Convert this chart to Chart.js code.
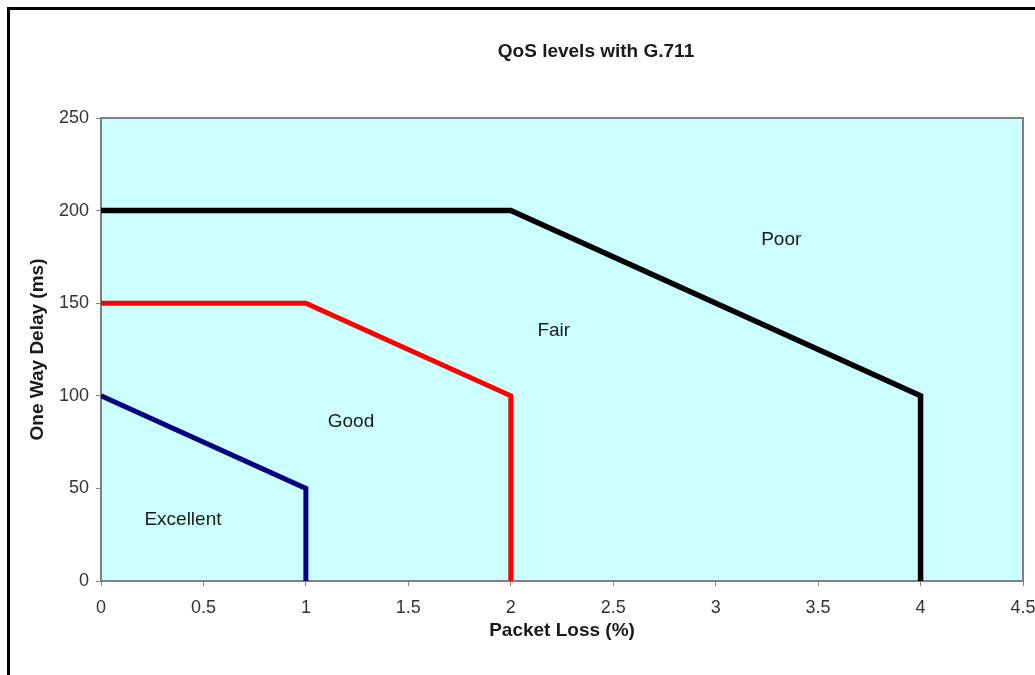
<!DOCTYPE html>
<html>
<head>
<meta charset="utf-8">
<script src="https://cdn.jsdelivr.net/npm/chart.js@4.4.1/dist/chart.umd.min.js"></script>
<style>
  html, body { margin: 0; padding: 0; background: #ffffff; }
  #wrap { width: 1035px; height: 675px; position: relative; }
  canvas { display: block; }
</style>
</head>
<body>
<div id="wrap"><canvas id="c" width="1035" height="675"></canvas></div>
<script>
// ---- data ----
const chartTitle = 'QoS levels with G.711';
const xAxisTitle = 'Packet Loss (%)';
const yAxisTitle = 'One Way Delay (ms)';

const xTickValues = [0, 0.5, 1, 1.5, 2, 2.5, 3, 3.5, 4, 4.5];
const yTickValues = [0, 50, 100, 150, 200, 250];

// Boundary lines (Packet Loss %, One Way Delay ms)
const excellentLoss  = [0, 1, 1];
const excellentDelay = [100, 50, 0];
const goodLoss  = [0, 1, 2, 2];
const goodDelay = [150, 150, 100, 0];
const fairLoss  = [0, 2, 4, 4];
const fairDelay = [200, 200, 100, 0];

// Zone labels, anchored in data space
const zoneNames = ['Excellent', 'Good', 'Fair', 'Poor'];
const zoneLoss  = [0.40, 1.22, 2.21, 3.32];
const zoneDelay = [33, 86, 135, 184];

// ---- build ----
function pts(xs, ys) { return xs.map((x, i) => ({ x: x, y: ys[i] })); }

const FONT = "'Liberation Sans', Arial, Helvetica, sans-serif";

const decorPlugin = {
  id: 'decor',
  beforeDraw(chart) {
    const { ctx, chartArea: a } = chart;
    ctx.save();
    ctx.fillStyle = '#ffffff';
    ctx.fillRect(0, 0, chart.width, chart.height);
    ctx.fillStyle = '#ccffff';
    ctx.fillRect(a.left, a.top, a.right - a.left, a.bottom - a.top);
    // outer frame (left + top)
    ctx.strokeStyle = '#000000';
    ctx.lineWidth = 3;
    ctx.beginPath();
    ctx.moveTo(8.5, chart.height + 5);
    ctx.lineTo(8.5, 8.5);
    ctx.lineTo(chart.width + 5, 8.5);
    ctx.stroke();
    // title
    ctx.fillStyle = '#1a1a1a';
    ctx.font = 'bold 19px ' + FONT;
    ctx.textAlign = 'center';
    ctx.textBaseline = 'middle';
    ctx.fillText(chartTitle, 596, 52);
    ctx.restore();
  },
  afterDatasetsDraw(chart) {
    const { ctx, chartArea: a, scales } = chart;
    ctx.save();
    // plot border top & right
    ctx.strokeStyle = '#808080';
    ctx.lineWidth = 2;
    ctx.beginPath();
    ctx.moveTo(a.left, a.top);
    ctx.lineTo(a.right, a.top);
    ctx.lineTo(a.right, a.bottom);
    ctx.stroke();
    // zone labels
    ctx.fillStyle = '#1a1a1a';
    ctx.font = '19px ' + FONT;
    ctx.textAlign = 'center';
    ctx.textBaseline = 'middle';
    zoneNames.forEach((n, i) => {
      ctx.fillText(n, scales.x.getPixelForValue(zoneLoss[i]), scales.y.getPixelForValue(zoneDelay[i]));
    });
    ctx.restore();
  }
};

function lineDs(label, xs, ys, color, width) {
  return {
    label: label,
    data: pts(xs, ys),
    showLine: true,
    borderColor: color,
    backgroundColor: color,
    borderWidth: width,
    pointRadius: 0,
    pointHoverRadius: 0,
    tension: 0,
    borderJoinStyle: 'miter',
    borderCapStyle: 'butt',
    fill: false
  };
}

new Chart(document.getElementById('c'), {
  type: 'scatter',
  data: {
    datasets: [
      lineDs('Excellent', excellentLoss, excellentDelay, '#000080', 5),
      lineDs('Good', goodLoss, goodDelay, '#ff0000', 5),
      lineDs('Fair', fairLoss, fairDelay, '#000000', 5.5)
    ]
  },
  options: {
    responsive: false,
    animation: false,
    devicePixelRatio: 1,
    layout: { padding: { top: 118, left: 0, right: 12, bottom: 0 } },
    plugins: {
      legend: { display: false },
      title: { display: false },
      tooltip: { enabled: false }
    },
    scales: {
      x: {
        type: 'linear',
        min: 0, max: 4.5,
        afterBuildTicks(s) { s.ticks = xTickValues.map(v => ({ value: v })); },
        afterFit(s) { s.height = 94; s.paddingLeft = 0; s.paddingRight = 0; },
        grid: { drawOnChartArea: false, drawTicks: true, tickLength: 5, color: '#808080', lineWidth: 1 },
        border: { display: true, color: '#808080', width: 2 },
        ticks: { color: '#333333', font: { family: FONT, size: 18 }, padding: 11, maxRotation: 0, autoSkip: false,
                 callback: v => String(v) },
        title: { display: true, text: xAxisTitle, color: '#1a1a1a', font: { family: FONT, size: 19, weight: 'bold' }, padding: { top: 0, bottom: 33 } }
      },
      y: {
        type: 'linear',
        min: 0, max: 250,
        afterBuildTicks(s) { s.ticks = yTickValues.map(v => ({ value: v })); },
        afterFit(s) { s.width = 101; s.paddingTop = 0; s.paddingBottom = 0; },
        grid: { drawOnChartArea: false, drawTicks: true, tickLength: 5, color: '#808080', lineWidth: 1 },
        border: { display: true, color: '#808080', width: 2 },
        ticks: { color: '#333333', font: { family: FONT, size: 18 }, padding: 7, autoSkip: false,
                 callback: v => String(v) },
        title: { display: true, text: yAxisTitle, color: '#1a1a1a', font: { family: FONT, size: 19, weight: 'bold' }, padding: { top: 26, bottom: 0 } }
      }
    }
  },
  plugins: [decorPlugin]
});
</script>
</body>
</html>
